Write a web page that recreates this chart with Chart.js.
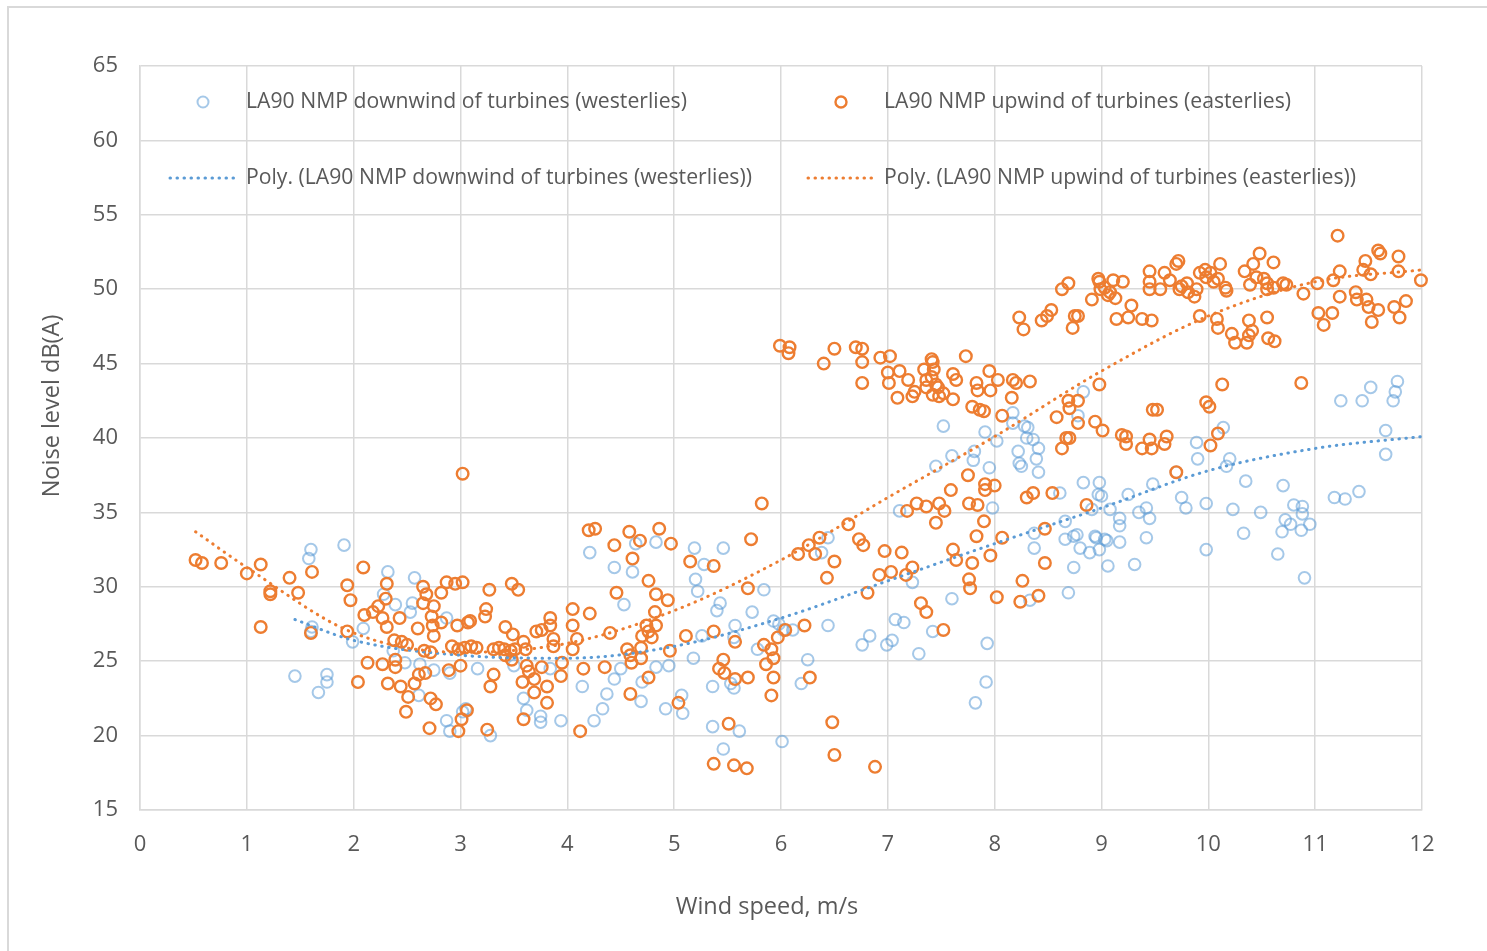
<!DOCTYPE html>
<html>
<head>
<meta charset="utf-8">
<script src="https://cdn.jsdelivr.net/npm/chart.js@4.4.1/dist/chart.umd.min.js"></script>
<style>
  html, body { margin: 0; padding: 0; background: #fff; overflow: hidden; }
  #wrap { position: relative; width: 1487px; height: 951px; }
  #frame { position: absolute; left: 7px; top: 6px; width: 1500px; height: 1000px;
           border-top: 2px solid #d9d9d9; border-left: 2px solid #d9d9d9; }
  #chart { position: absolute; left: 0; top: 0; }
</style>
</head>
<body>
<div id="wrap">
  <div id="frame"></div>
  <canvas id="chart" width="1487" height="951"></canvas>
</div>
<script>
// LA90 downwind of turbines (westerlies) - wind speed m/s / noise dB(A)
const westWind = [
  1.60,1.58,1.91,2.32,2.57,1.61,1.60,1.45,1.75,1.75,
  1.67,2.09,1.99,2.28,2.39,2.53,2.55,2.37,2.48,2.62,
  2.75,2.61,2.87,2.87,2.90,2.90,3.02,4.21,4.44,4.61,
  4.64,4.83,5.19,5.46,5.28,5.20,5.22,4.53,5.43,5.40,
  5.73,5.84,5.57,5.93,5.98,5.26,5.56,5.78,5.18,4.95,
  4.83,4.50,4.44,4.14,4.37,4.33,4.25,4.70,4.69,5.07,
  5.08,4.92,5.36,5.53,5.56,5.36,5.61,5.46,6.01,3.94,
  3.75,3.75,3.62,3.59,3.28,3.50,3.84,3.16,3.05,6.44,
  6.38,7.11,7.98,7.23,7.60,7.07,7.15,6.44,6.83,6.76,
  6.99,7.04,7.29,7.42,7.93,7.92,7.82,6.25,6.19,6.11,
  6.02,8.33,8.69,8.74,8.37,8.37,8.66,8.66,8.74,8.77,
  8.80,8.89,8.94,8.95,8.98,9.03,9.06,8.91,9.08,9.00,
  9.17,9.17,9.17,9.05,9.25,9.35,9.42,9.45,9.42,9.31,
  9.48,9.75,9.79,9.70,9.89,9.90,10.14,10.20,10.17,9.98,
  9.98,10.23,10.35,10.33,10.49,10.70,10.80,10.88,10.88,10.95,
  10.72,10.69,10.77,10.87,10.65,10.90,11.18,11.28,11.41,11.24,
  11.44,11.52,11.73,11.75,11.77,11.66,11.66,7.52,7.45,7.60,
  7.81,7.80,7.95,7.91,8.02,8.17,8.17,8.28,8.31,8.36,
  8.30,8.41,8.39,8.41,8.23,8.25,8.22,8.83,8.78,8.83,
  8.98,8.97,8.61
];
const westNoise = [
  32.5,31.9,32.8,31.0,30.6,27.3,27.0,24.0,24.1,23.6,
  22.9,27.2,26.3,29.5,28.8,28.3,28.9,25.7,24.9,24.8,
  24.4,22.7,27.9,21.0,20.3,24.2,21.6,32.3,31.3,31.0,
  32.9,33.0,32.6,32.6,31.5,30.5,29.7,28.8,28.9,28.4,
  28.3,29.8,27.4,27.7,27.5,26.7,26.6,25.8,25.2,24.7,
  24.6,24.5,23.8,23.3,22.8,21.8,21.0,23.6,22.3,22.7,
  21.5,21.8,23.3,23.5,23.2,20.6,20.3,19.1,19.6,21.0,
  20.9,21.3,21.7,22.5,20.0,24.7,24.5,24.5,21.8,33.3,
  32.3,35.1,35.3,30.3,29.2,27.8,27.6,27.4,26.7,26.1,
  26.1,26.4,25.5,27.0,26.2,23.6,22.2,25.1,23.5,27.1,
  27.1,29.1,29.6,31.3,32.6,33.6,34.4,33.2,33.4,33.5,
  32.6,32.3,33.4,33.3,32.5,33.2,31.4,35.2,35.2,36.1,
  34.6,34.1,33.0,33.1,36.2,35.0,35.3,34.6,33.3,31.5,
  36.9,36.0,35.3,37.7,39.7,38.6,40.7,38.6,38.1,35.6,
  32.5,35.2,37.1,33.6,35.0,36.8,35.5,35.4,34.9,34.2,
  34.5,33.7,34.2,33.8,32.2,30.6,36.0,35.9,36.4,42.5,
  42.5,43.4,42.5,43.1,43.8,40.5,38.9,40.8,38.1,38.8,
  39.1,38.5,38.0,40.4,39.8,41.7,41.0,40.8,40.7,39.9,
  40.0,39.3,38.6,37.7,38.3,38.1,39.1,43.1,41.5,37.0,
  37.0,36.2,36.3
];

// LA90 upwind of turbines (easterlies)
const eastWind = [
  0.52,0.58,0.76,1.00,1.13,1.22,1.22,1.13,1.40,1.48,
  1.61,1.60,1.94,1.97,2.09,2.10,2.18,2.23,2.30,2.31,
  1.94,2.13,2.27,2.04,2.32,2.43,2.27,2.31,2.39,2.39,
  2.38,2.45,2.50,2.44,2.51,2.57,2.49,2.60,2.65,2.68,
  2.65,2.75,2.73,2.74,2.75,2.66,2.72,2.61,2.67,2.72,
  2.77,2.71,2.82,2.87,2.95,3.02,2.82,2.89,2.97,3.00,
  3.07,2.92,2.98,3.04,2.98,3.01,3.06,3.27,3.48,3.54,
  3.09,3.24,3.23,3.10,3.15,3.31,3.36,3.41,3.47,3.51,
  3.59,3.61,3.42,3.49,3.71,3.76,3.84,3.84,3.87,3.87,
  4.05,4.05,4.21,4.09,4.05,4.20,4.26,4.44,4.58,4.68,
  4.86,4.97,4.61,4.76,4.46,4.83,4.94,4.82,4.83,4.74,
  4.76,4.70,4.79,4.40,4.56,4.59,4.69,4.60,4.69,4.96,
  5.11,4.76,4.59,4.35,4.15,4.12,5.04,5.15,5.37,5.72,
  5.82,5.69,5.37,5.57,5.46,5.42,5.47,5.57,5.69,5.84,
  5.86,5.93,5.91,5.97,6.04,5.93,5.91,5.51,5.37,5.56,
  5.68,3.25,3.28,3.31,3.58,3.59,3.69,3.69,3.81,3.81,
  3.62,3.64,3.76,3.94,3.95,3.42,3.48,6.16,6.26,6.32,
  6.36,6.63,6.50,6.43,6.73,6.77,6.97,6.81,6.92,7.03,
  7.13,7.17,7.23,7.31,7.36,7.52,7.18,7.27,7.36,7.45,
  7.48,7.53,7.76,7.84,7.90,7.83,7.61,7.64,7.79,7.96,
  7.76,7.77,8.07,8.26,8.24,8.41,8.02,8.47,8.47,8.86,
  6.22,6.27,6.48,6.50,6.88,5.99,6.08,6.07,6.40,6.50,
  6.70,6.76,6.76,6.76,6.93,7.02,7.00,7.01,7.09,7.11,
  7.19,7.23,7.25,7.34,7.36,7.41,7.42,7.43,7.41,7.45,
  7.47,7.42,7.48,7.52,7.36,7.61,7.64,7.61,7.73,7.83,
  7.84,7.79,7.86,7.90,7.95,7.96,8.03,8.16,8.17,8.20,
  8.33,8.07,8.23,8.27,8.44,8.49,8.53,8.63,8.69,8.73,
  8.75,8.78,8.91,8.97,8.99,9.06,8.98,8.58,8.69,8.70,
  8.78,8.63,8.67,8.70,8.78,8.94,9.01,7.75,7.91,8.00,
  7.91,7.59,8.30,8.36,8.54,9.19,9.23,9.23,9.38,9.45,
  9.47,9.48,9.52,9.59,9.61,9.70,9.98,10.01,10.09,10.02,
  10.13,10.87,8.98,9.03,9.08,9.13,9.11,9.20,9.14,9.25,
  9.28,9.38,9.47,9.45,9.45,9.45,9.55,9.59,9.64,9.70,
  9.72,9.73,9.75,9.80,9.81,9.87,9.89,9.92,9.97,9.98,
  10.02,10.05,10.09,10.11,10.16,10.17,9.92,10.08,10.09,10.22,
  10.25,10.36,10.38,10.38,10.41,10.34,10.39,10.42,10.48,10.45,
  10.52,10.55,10.61,10.55,10.61,10.70,10.73,10.55,10.56,10.62,
  10.89,11.02,11.03,11.08,11.16,11.17,11.23,11.23,11.21,11.38,
  11.39,11.45,11.47,11.52,11.53,11.48,11.50,11.59,11.59,11.61,
  11.78,11.78,11.74,11.79,11.85,11.99,3.02
];
const eastNoise = [
  31.8,31.6,31.6,30.9,31.5,29.7,29.5,27.3,30.6,29.6,
  31.0,26.9,30.1,29.1,31.3,28.1,28.3,28.7,29.2,30.2,
  27.0,24.9,24.8,23.6,23.5,27.9,27.9,27.3,25.1,24.6,
  26.4,26.3,26.1,23.3,22.6,23.5,21.6,27.2,30.0,29.5,
  28.9,28.7,28.0,27.4,26.7,25.7,25.6,24.1,24.2,22.5,
  22.1,20.5,29.6,30.3,30.2,30.3,27.6,24.4,27.4,24.7,
  27.6,26.0,25.8,25.9,20.3,21.1,21.7,29.8,30.2,29.8,
  27.7,28.5,28.0,26.0,25.9,25.8,25.9,25.8,25.7,25.8,
  26.3,25.8,27.3,26.8,27.0,27.1,27.4,27.9,26.5,26.0,
  28.5,27.4,28.2,26.5,25.8,33.8,33.9,32.8,33.7,33.1,
  33.9,32.9,31.9,30.4,29.6,29.5,29.1,28.3,27.4,27.4,
  27.0,26.7,26.6,26.9,25.8,25.4,25.9,24.9,25.2,25.7,
  26.7,23.9,22.8,24.6,24.5,20.3,22.2,31.7,31.4,33.2,
  35.6,29.9,27.0,26.3,25.1,24.5,24.2,23.8,23.9,26.1,
  24.8,25.2,25.8,26.6,27.1,23.9,22.7,20.8,18.1,18.0,
  17.8,20.4,23.3,24.1,23.6,21.1,23.8,22.9,23.3,22.2,
  24.7,24.3,24.6,24.0,24.9,25.4,25.1,32.2,32.8,32.2,
  33.3,34.2,31.7,30.6,33.2,32.8,32.4,29.6,30.8,31.0,
  32.3,30.8,31.3,28.9,28.3,27.1,35.1,35.6,35.4,34.3,
  35.6,35.1,35.6,35.5,34.4,33.4,32.5,31.8,31.6,32.1,
  30.5,29.9,33.3,30.4,29.0,29.4,29.3,33.9,31.6,35.5,
  27.4,23.9,20.9,18.7,17.9,46.2,46.1,45.7,45.0,46.0,
  46.1,46.0,45.1,43.7,45.4,45.5,44.4,43.7,42.7,44.5,
  43.9,42.8,43.1,44.6,43.9,45.3,45.1,44.6,44.1,43.6,
  43.4,42.9,42.8,43.0,43.4,44.3,43.9,42.6,45.5,43.7,
  43.2,42.1,41.9,41.8,44.5,43.2,43.9,42.7,43.9,43.7,
  43.8,41.5,48.1,47.3,47.9,48.2,48.6,50.0,50.4,47.4,
  48.2,48.2,49.3,50.7,50.0,49.6,43.6,41.4,42.5,42.0,
  42.5,39.3,40.0,40.0,41.0,41.1,40.5,37.5,36.9,36.8,
  36.5,36.5,36.0,36.3,36.3,40.2,40.1,39.6,39.3,39.9,
  39.3,41.9,41.9,39.6,40.1,37.7,42.4,42.1,40.3,39.5,
  43.6,43.7,50.5,50.1,49.8,49.4,50.6,50.5,48.0,48.1,
  48.9,48.0,47.9,51.2,50.5,50.0,50.0,51.1,50.6,51.7,
  51.9,50.0,50.2,50.4,49.8,49.5,50.0,51.1,51.3,50.8,
  51.1,50.5,50.7,51.7,50.1,49.9,48.2,48.0,47.4,47.0,
  46.4,46.4,46.9,47.9,47.2,51.2,50.3,51.7,52.4,50.8,
  50.7,50.4,51.8,50.0,50.1,50.4,50.3,48.1,46.7,46.5,
  49.7,50.4,48.4,47.6,48.4,50.6,51.2,49.5,53.6,49.8,
  49.3,51.3,51.9,51.0,47.8,49.3,48.8,48.6,52.6,52.4,
  52.2,51.2,48.8,48.1,49.2,50.6,37.6
];

// polynomial trendlines
const westTrendWind  = [1.45, 2, 3, 4, 5, 6, 7, 8, 9, 10, 11, 12];
const westTrendNoise = [27.8, 26.4, 25.4, 25.2, 26.0, 27.9, 30.4, 32.9, 35.3, 37.8, 39.3, 40.1];
const eastTrendWind  = [0.52, 1, 2, 3, 4, 5, 6, 7, 8, 9, 10, 11, 12];
const eastTrendNoise = [33.7, 31.3, 26.9, 25.6, 26.2, 28.4, 31.8, 36.0, 40.1, 44.5, 48.2, 50.5, 51.3];

const FONT = "'Open Sans', sans-serif";
const TXT = "#595959";
const GRID = "#d9d9d9";
const BLUE = "#5b9bd5";
const BLUE_PT = "rgba(91,155,213,0.55)";
const ORANGE = "#ed7d31";

const toPoints = (xs, ys) => xs.map((x, i) => ({x: x, y: ys[i]}));

// Excel style legend: 2x2 grid sitting inside the plot area
const legendInArea = {
  id: "legendInArea",
  afterDraw(chart) {
    const {ctx, chartArea: a} = chart;
    const cols = [a.left + 63, a.left + 701];
    const rows = [a.top + 36, a.top + 112];
    ctx.save();
    ctx.font = "21.2px " + FONT;
    ctx.fillStyle = TXT;
    ctx.textBaseline = "middle";
    chart.data.datasets.forEach((d, i) => {
      const cx = cols[i % 2], cy = rows[Math.floor(i / 2)];
      ctx.strokeStyle = d.borderColor;
      ctx.lineWidth = d.borderWidth;
      ctx.beginPath();
      if (d.showLine) {
        ctx.setLineDash(d.borderDash);
        ctx.lineCap = d.borderCapStyle;
        ctx.moveTo(cx - 33, cy);
        ctx.lineTo(cx + 32, cy);
      } else {
        ctx.arc(cx, cy, 5.5, 0, Math.PI * 2);
      }
      ctx.stroke();
      ctx.setLineDash([]);
      ctx.fillText(d.label, cx + 43, cy);
    });
    ctx.restore();
  }
};

// Excel centres the axis titles a little off the plot-area middle
const titleShift = {
  id: "titleShift",
  beforeDraw(chart) {
    [["x", -14, 0], ["y", 0, -32]].forEach(([id, dx, dy]) => {
      const s = chart.scales[id];
      if (!s || s._shifted) return;
      const orig = s.drawTitle.bind(s);
      s.drawTitle = function () {
        this.ctx.save();
        this.ctx.translate(dx, dy);
        orig();
        this.ctx.restore();
      };
      s._shifted = true;
    });
  }
};

const tickFont = {family: FONT, size: 22};
const titleFont = {family: FONT, size: 23.5};

new Chart(document.getElementById("chart"), {
  type: "scatter",
  data: {
    datasets: [
      {
        label: "LA90 NMP downwind of turbines (westerlies)",
        data: toPoints(westWind, westNoise),
        borderColor: BLUE_PT,
        backgroundColor: "rgba(0,0,0,0)",
        borderWidth: 2,
        pointRadius: 5.8,
        clip: false,
        order: 3
      },
      {
        label: "LA90 NMP upwind of turbines (easterlies)",
        data: toPoints(eastWind, eastNoise),
        borderColor: ORANGE,
        backgroundColor: "rgba(0,0,0,0)",
        borderWidth: 2.4,
        pointRadius: 5.8,
        clip: false,
        order: 2
      },
      {
        label: "Poly. (LA90 NMP downwind of turbines (westerlies))",
        data: toPoints(westTrendWind, westTrendNoise),
        showLine: true,
        borderColor: BLUE,
        borderWidth: 3,
        borderDash: [0.5, 6.5],
        borderCapStyle: "round",
        cubicInterpolationMode: "monotone",
        pointRadius: 0,
        order: 1
      },
      {
        label: "Poly. (LA90 NMP upwind of turbines (easterlies))",
        data: toPoints(eastTrendWind, eastTrendNoise),
        showLine: true,
        borderColor: ORANGE,
        borderWidth: 3,
        borderDash: [0.5, 6.5],
        borderCapStyle: "round",
        cubicInterpolationMode: "monotone",
        pointRadius: 0,
        order: 0
      }
    ]
  },
  options: {
    responsive: false,
    devicePixelRatio: 1,
    animation: false,
    events: [],
    layout: { padding: { left: 0, top: 66, right: 65, bottom: 0 } },
    plugins: {
      legend: { display: false },
      tooltip: { enabled: false }
    },
    scales: {
      x: {
        type: "linear",
        min: 0, max: 12,
        ticks: { stepSize: 1, color: TXT, font: tickFont, padding: 22 },
        grid: { color: GRID, lineWidth: 1.5, drawTicks: false },
        border: { color: GRID, width: 1.5 },
        title: { display: true, text: "Wind speed, m/s", color: TXT, font: titleFont,
                 padding: { top: 0, bottom: 30 } },
        afterFit(s) { s.height = 141; }
      },
      y: {
        min: 15, max: 65,
        ticks: { stepSize: 5, color: TXT, font: tickFont, padding: 22 },
        grid: { color: GRID, lineWidth: 1.5, drawTicks: false },
        border: { color: GRID, width: 1.5 },
        title: { display: true, text: "Noise level dB(A)", color: TXT, font: titleFont,
                 padding: { top: 38, bottom: 0 } },
        afterFit(s) { s.width = 140; }
      }
    }
  },
  plugins: [legendInArea, titleShift]
});
</script>
</body>
</html>
